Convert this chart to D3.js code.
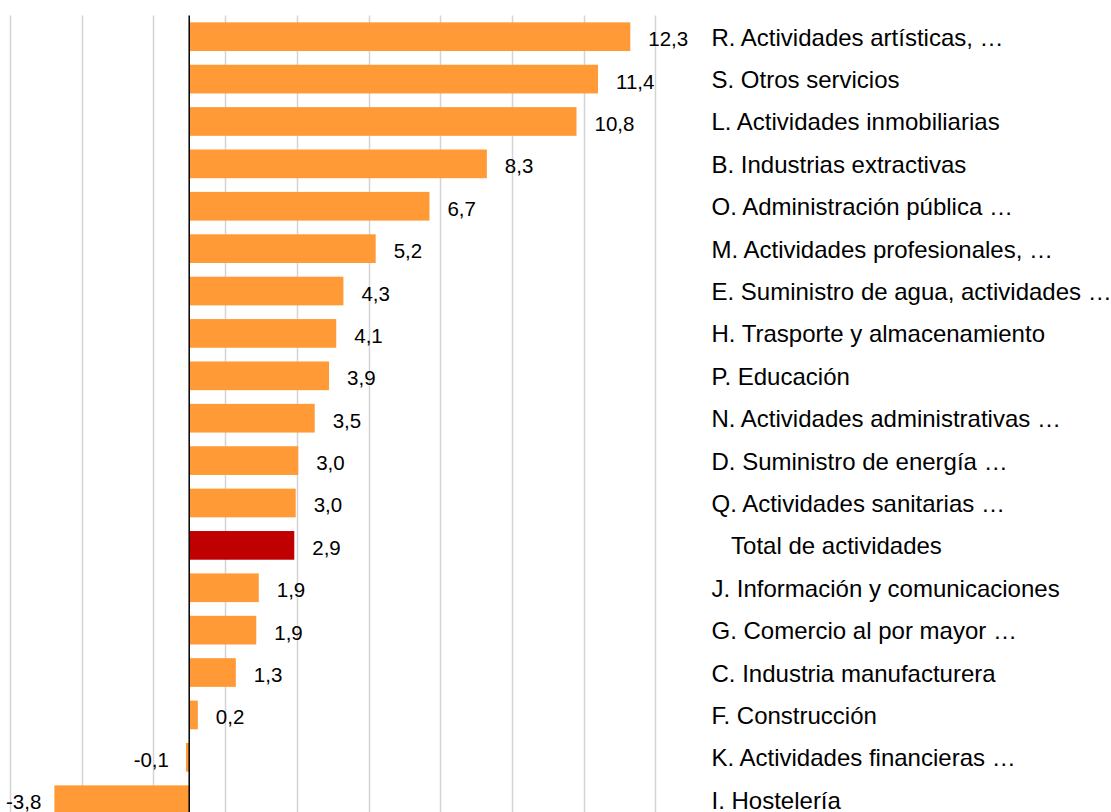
<!DOCTYPE html>
<html>
<head>
<meta charset="utf-8">
<script src="https://cdn.jsdelivr.net/npm/d3@7"></script>
<style>
  html, body { margin: 0; padding: 0; background: #ffffff; }
  svg { display: block; }
  text { font-family: "Liberation Sans", Arial, sans-serif; fill: #000; }
</style>
</head>
<body>
<svg id="chart" width="1111" height="812"></svg>
<script>
// ---- data ----
const categories = [
  "R. Actividades artísticas, …",
  "S. Otros servicios",
  "L. Actividades inmobiliarias",
  "B. Industrias extractivas",
  "O. Administración pública …",
  "M. Actividades profesionales, …",
  "E. Suministro de agua, actividades …",
  "H. Trasporte y almacenamiento",
  "P. Educación",
  "N. Actividades administrativas …",
  "D. Suministro de energía …",
  "Q. Actividades sanitarias …",
  "   Total de actividades",
  "J. Información y comunicaciones",
  "G. Comercio al por mayor …",
  "C. Industria manufacturera",
  "F. Construcción",
  "K. Actividades financieras …",
  "I. Hostelería"
];
const values = [12.3, 11.4, 10.8, 8.3, 6.7, 5.2, 4.3, 4.1, 3.9, 3.5, 3.04, 2.97, 2.93, 1.94, 1.87, 1.3, 0.24, -0.09, -3.76];
const highlight = ["   Total de actividades"];
const xTicks = [-5, -3, -1, 1, 3, 5, 7, 9, 11, 13];

// ---- layout ----
const svg = d3.select("#chart");
const plotTop = 15.5, step = 42.39;
const plotBottom = plotTop + step * categories.length;

const x = d3.scaleLinear().domain([-5, 13]).range([9.9, 655.4]);
const y = d3.scaleBand().domain(categories).range([plotTop, plotBottom])
  .paddingInner(0.323).paddingOuter(0.1615);

// gridlines
svg.append("g").selectAll("line").data(xTicks).join("line")
  .attr("x1", d => Math.round(x(d)) + 0.5).attr("x2", d => Math.round(x(d)) + 0.5)
  .attr("y1", plotTop).attr("y2", plotBottom)
  .attr("stroke", "#d4d4d4").attr("stroke-width", 1.5);

// bars
svg.append("g").selectAll("rect").data(categories).join("rect")
  .attr("x", (c, i) => x(Math.min(0, values[i])))
  .attr("width", (c, i) => Math.abs(x(values[i]) - x(0)))
  .attr("y", c => y(c))
  .attr("height", y.bandwidth())
  .attr("fill", c => highlight.includes(c) ? "#C00000" : "#FF9A36");

// zero axis
svg.append("line")
  .attr("x1", x(0)).attr("x2", x(0))
  .attr("y1", plotTop).attr("y2", plotBottom)
  .attr("stroke", "#000").attr("stroke-width", 1.5);

// value labels
const fmt = v => v.toFixed(1).replace(".", ",");
const vl = svg.append("g").selectAll("text").data(categories).join("text")
  .attr("y", c => y(c) + y.bandwidth() / 2 + 9.5)
  .style("font-size", "20.5px")
  .text((c, i) => fmt(values[i]));
vl.each(function (c, i) {
  const v = values[i];
  const t = d3.select(this);
  if (v >= 0) {
    t.attr("x", x(v) + 18).attr("text-anchor", "start");
  } else {
    const w = this.getComputedTextLength();
    t.attr("x", Math.max(x(v) - 17, w + 6)).attr("text-anchor", "end");
  }
});

// category labels
svg.append("g").selectAll("text").data(categories).join("text")
  .attr("x", 711.5)
  .attr("y", c => y(c) + y.bandwidth() / 2 + 9)
  .style("font-size", "24px")
  .style("white-space", "pre")
  .attr("xml:space", "preserve")
  .text(c => c);
</script>
</body>
</html>
